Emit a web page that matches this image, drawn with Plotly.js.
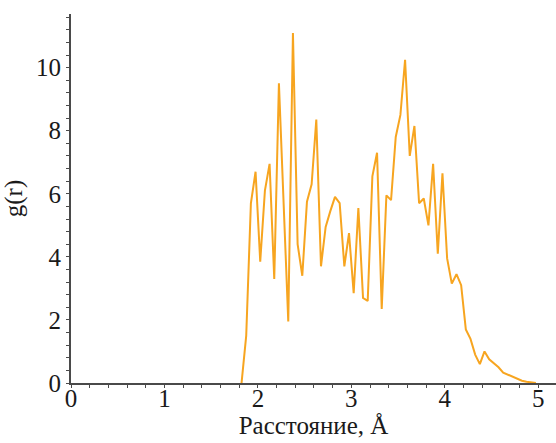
<!DOCTYPE html>
<html>
<head>
<meta charset="utf-8">
<script src="https://cdn.plot.ly/plotly-3.0.1.min.js"></script>
<style>html,body{margin:0;padding:0;background:#fff;}#chart{width:556px;height:443px;}</style>
</head>
<body>
<div id="chart"></div>
<script>
// Distance r (Å)
const distance = [1.825, 1.875, 1.925, 1.975, 2.025, 2.075, 2.125, 2.175, 2.225, 2.275,
  2.325, 2.375, 2.425, 2.475, 2.525, 2.575, 2.625, 2.675, 2.725, 2.775,
  2.825, 2.875, 2.925, 2.975, 3.025, 3.075, 3.125, 3.175, 3.225, 3.275,
  3.325, 3.375, 3.425, 3.475, 3.525, 3.575, 3.625, 3.675, 3.725, 3.775,
  3.825, 3.875, 3.925, 3.975, 4.025, 4.075, 4.125, 4.175, 4.225, 4.275,
  4.325, 4.375, 4.425, 4.475, 4.525, 4.575, 4.625, 4.675, 4.725, 4.775,
  4.825, 4.875, 4.925, 4.975];
// g(r)
const gr = [0, 1.5, 5.7, 6.7, 3.85, 6.1, 6.95, 3.3, 9.5, 5.7,
  1.95, 11.1, 4.4, 3.4, 5.75, 6.3, 8.35, 3.7, 4.95, 5.45,
  5.9, 5.7, 3.7, 4.75, 2.85, 5.55, 2.7, 2.6, 6.55, 7.3,
  2.35, 5.95, 5.8, 7.8, 8.5, 10.25, 7.2, 8.15, 5.7, 5.85,
  5.0, 6.95, 4.1, 6.65, 3.95, 3.15, 3.45, 3.1, 1.7, 1.4,
  0.9, 0.6, 1.0, 0.75, 0.62, 0.5, 0.33, 0.27, 0.2, 0.13,
  0.07, 0.04, 0.01, 0];
const xTicks = [0, 1, 2, 3, 4, 5];
const yTicks = [0, 2, 4, 6, 8, 10];

const axisFont = {family: '"Liberation Serif", "DejaVu Serif", serif', size: 25, color: '#1a1a1a'};

Plotly.newPlot('chart', [{
  x: distance, y: gr, type: 'scatter', mode: 'lines',
  line: {color: '#F7A520', width: 2}, hoverinfo: 'skip'
}], {
  width: 556, height: 443,
  margin: {l: 71, r: 0, t: 14, b: 60},
  paper_bgcolor: '#fff', plot_bgcolor: '#fff',
  showlegend: false,
  xaxis: {
    range: [0, 5.19], tickmode: 'array', tickvals: xTicks, ticktext: xTicks.map(String),
    showgrid: false, zeroline: false, showline: true, linecolor: '#4a4a4a', linewidth: 2,
    layer: 'above traces',
    ticks: 'outside', ticklen: 3, tickcolor: '#4a4a4a',
    ticklabelstandoff: -11,
    minor: {dtick: 0.2, tick0: 0, ticks: 'outside', ticklen: 3, tickcolor: '#4a4a4a', showgrid: false},
    tickfont: axisFont,
    title: {text: 'Расстояние, Å', font: axisFont, standoff: 0}
  },
  yaxis: {
    range: [0, 11.7], tickmode: 'array', tickvals: yTicks, ticktext: yTicks.map(String),
    showgrid: false, zeroline: false, showline: true, linecolor: '#4a4a4a', linewidth: 2,
    layer: 'above traces',
    ticks: 'outside', ticklen: 3, tickcolor: '#4a4a4a',
    minor: {dtick: 0.4, tick0: 0, ticks: 'outside', ticklen: 3, tickcolor: '#4a4a4a', showgrid: false},
    tickfont: axisFont,
    title: {text: 'g(r)', font: axisFont, standoff: 10}
  }
}, {displayModeBar: false, staticPlot: true});
</script>
</body>
</html>
